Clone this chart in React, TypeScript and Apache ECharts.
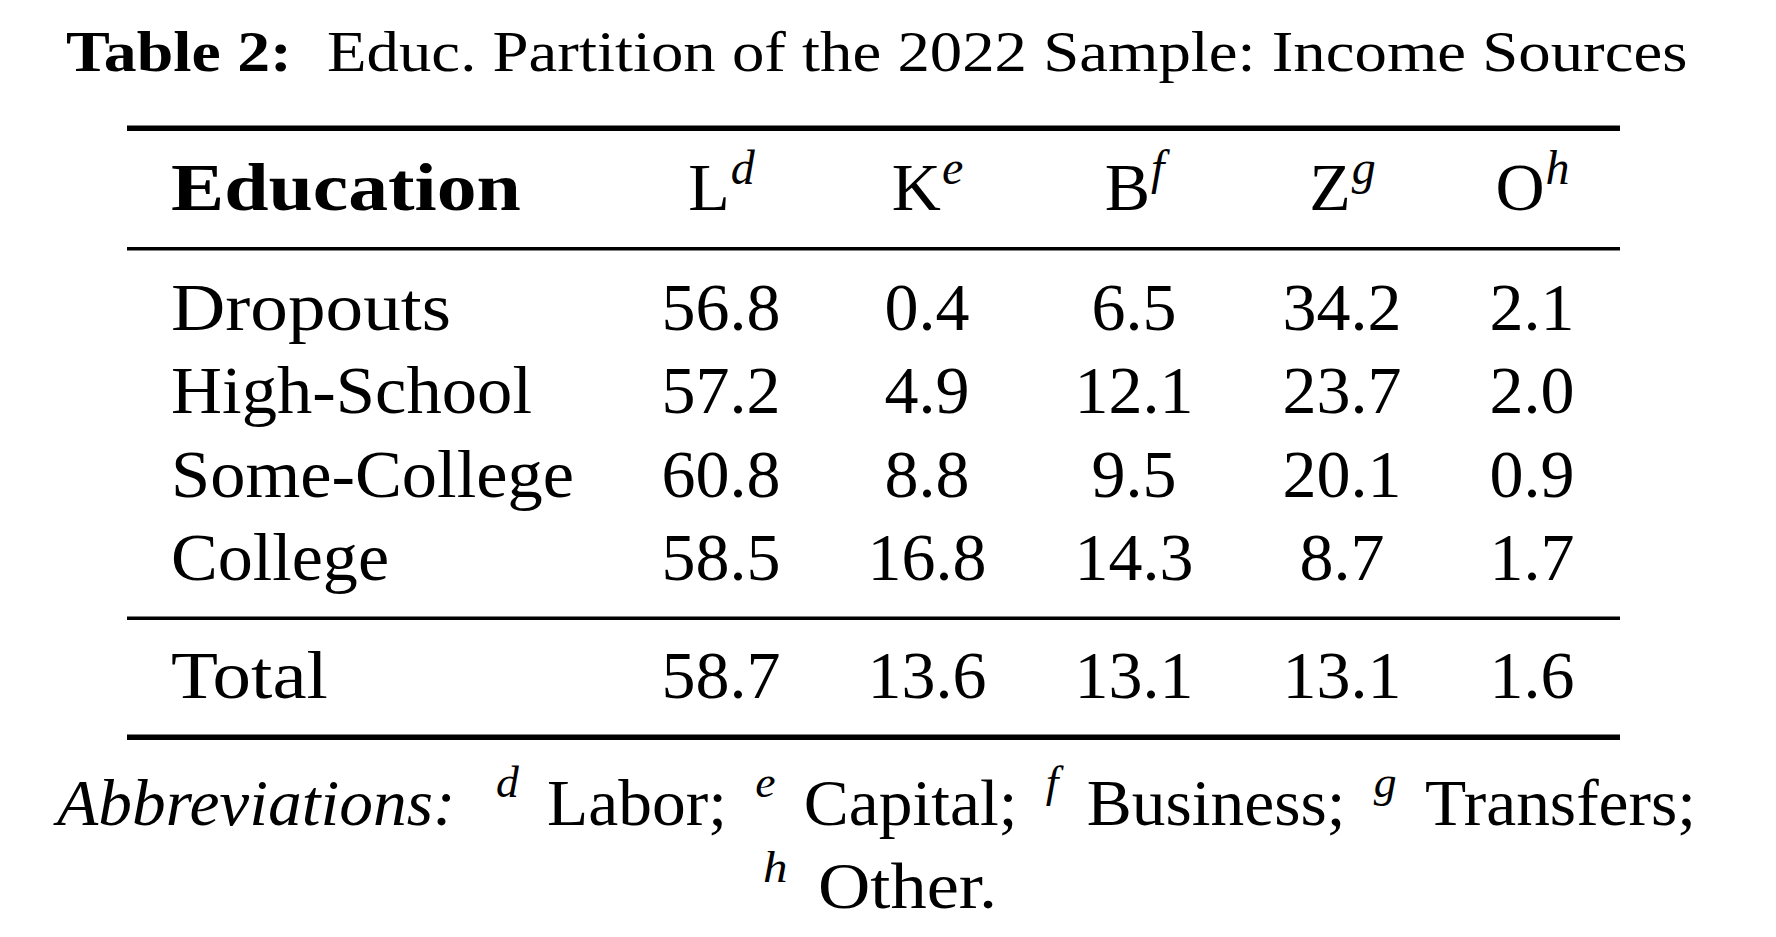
import React, { useEffect, useRef } from "react";
import * as echarts from "echarts";

// ---------- data ----------
const TITLE_BOLD = "Table 2:";
const TITLE_TEXT = "Educ. Partition of the 2022 Sample: Income Sources";
const HEADER_LABEL = "Education";
const COLUMN_LETTERS = ["L", "K", "B", "Z", "O"];
const COLUMN_MARKS = ["d", "e", "f", "g", "h"];
const CATEGORIES = ["Dropouts", "High-School", "Some-College", "College"];
const LABOR = [56.8, 57.2, 60.8, 58.5];
const CAPITAL = [0.4, 4.9, 8.8, 16.8];
const BUSINESS = [6.5, 12.1, 9.5, 14.3];
const TRANSFERS = [34.2, 23.7, 20.1, 8.7];
const OTHER = [2.1, 2.0, 0.9, 1.7];
const TOTAL_LABEL = "Total";
const TOTAL = [58.7, 13.6, 13.1, 13.1, 1.6];
const NOTE_LEAD = "Abbreviations:";
const NOTE_NAMES = ["Labor;", "Capital;", "Business;", "Transfers;", "Other."];

// ---------- layout ----------
const FONT = '"Liberation Serif", "Times New Roman", serif';
const BODY = 68;
const SUP = 48;
const TITLE = 57;
const NOTE = 65;
const NOTE_SUP = 44;
const CENTRAL = 0.3375; // baseline offset of "central" for Liberation Serif
const COL_CENTERS = [721, 927, 1134, 1342, 1532];
const ROW_BASELINES = [330, 413, 497, 580];
const TOTAL_BASELINE = 698;
const HEADER_BASELINE = 210;
const HEADER_SUP_BASELINE = 184;
const LABEL_LEFT = 171;
const LABEL_RIGHTS = [451, 532, 574, 389]; // right edges of row labels
const TOTAL_RIGHT = 328;
const RULE_LEFT = 127;
const RULE_RIGHT = 1620;
const RULES = [
  { y: 125.5, h: 5.5 },
  { y: 247, h: 3.5 },
  { y: 616.5, h: 3.5 },
  { y: 734.5, h: 5.5 },
];

let ctx: CanvasRenderingContext2D | null = null;
function measure(text: string, size: number, weight = "normal", style = "normal") {
  if (!ctx) ctx = document.createElement("canvas").getContext("2d");
  ctx!.font = `${style} ${weight} ${size}px ${FONT}`;
  return ctx!.measureText(text).width;
}

function txt(
  text: string,
  x: number,
  baseline: number,
  size: number,
  opts: { align?: string; weight?: string; style?: string; sx?: number } = {}
) {
  return {
    type: "text",
    x,
    y: baseline - CENTRAL * size,
    scaleX: opts.sx ?? 1,
    silent: true,
    style: {
      text,
      fontFamily: FONT,
      fontSize: size,
      fontWeight: opts.weight ?? "normal",
      fontStyle: opts.style ?? "normal",
      fill: "#000",
      align: opts.align ?? "left",
      verticalAlign: "middle",
    },
  };
}

function fitSpan(
  text: string,
  left: number,
  right: number,
  baseline: number,
  size: number,
  weight = "normal",
  style = "normal"
) {
  const w = measure(text, size, weight, style);
  return txt(text, left, baseline, size, { weight, style, sx: (right - left) / w });
}

type Seg = { text: string; size: number; italic?: boolean; rise?: number; gap?: number };
function lineElements(segs: Seg[], left: number, right: number, baseline: number) {
  const widths = segs.map((s) => measure(s.text, s.size, "normal", s.italic ? "italic" : "normal"));
  let total = 0;
  segs.forEach((s, i) => (total += widths[i] + (s.gap ?? 0)));
  const sx = (right - left) / total;
  let x = left;
  const out: any[] = [];
  segs.forEach((s, i) => {
    x += (s.gap ?? 0) * sx;
    out.push(
      txt(s.text, x, baseline - (s.rise ?? 0), s.size, {
        style: s.italic ? "italic" : "normal",
        sx,
      })
    );
    x += widths[i] * sx;
  });
  return out;
}

function buildGraphics() {
  const g: any[] = [];
  // title
  g.push(fitSpan(TITLE_BOLD, 66, 292, 71, TITLE, "bold"));
  g.push(fitSpan(TITLE_TEXT, 327, 1688, 71, TITLE));

  // rules
  RULES.forEach((r) =>
    g.push({
      type: "rect",
      silent: true,
      shape: { x: RULE_LEFT, y: r.y, width: RULE_RIGHT - RULE_LEFT, height: r.h },
      style: { fill: "#000" },
    })
  );

  // header
  g.push(fitSpan(HEADER_LABEL, LABEL_LEFT, 521, HEADER_BASELINE, BODY, "bold"));
  COLUMN_LETTERS.forEach((letter, i) => {
    const wm = measure(letter, BODY);
    const ws = measure(COLUMN_MARKS[i], SUP, "normal", "italic");
    const left = COL_CENTERS[i] - (wm + ws) / 2;
    g.push(txt(letter, left, HEADER_BASELINE, BODY));
    g.push(txt(COLUMN_MARKS[i], left + wm + 1, HEADER_SUP_BASELINE, SUP, { style: "italic" }));
  });

  // body rows
  const columns = [LABOR, CAPITAL, BUSINESS, TRANSFERS, OTHER];
  CATEGORIES.forEach((cat, r) => {
    g.push(fitSpan(cat, LABEL_LEFT, LABEL_RIGHTS[r], ROW_BASELINES[r], BODY));
    columns.forEach((col, c) => {
      g.push(txt(col[r].toFixed(1), COL_CENTERS[c], ROW_BASELINES[r], BODY, { align: "center" }));
    });
  });

  // total row
  g.push(fitSpan(TOTAL_LABEL, LABEL_LEFT, TOTAL_RIGHT, TOTAL_BASELINE, BODY));
  TOTAL.forEach((v, c) =>
    g.push(txt(v.toFixed(1), COL_CENTERS[c], TOTAL_BASELINE, BODY, { align: "center" }))
  );

  // notes line 1
  const segs: Seg[] = [{ text: NOTE_LEAD, size: NOTE, italic: true }];
  for (let i = 0; i < 4; i++) {
    segs.push({ text: COLUMN_MARKS[i], size: NOTE_SUP, italic: true, rise: 28, gap: i === 0 ? 0.6 * NOTE : 0.42 * NOTE });
    segs.push({ text: NOTE_NAMES[i], size: NOTE, gap: 0.42 * NOTE });
  }
  g.push(...lineElements(segs, 57, 1696, 825));
  // notes line 2
  g.push(
    ...lineElements(
      [
        { text: COLUMN_MARKS[4], size: NOTE_SUP, italic: true, rise: 26 },
        { text: NOTE_NAMES[4], size: NOTE, gap: 0.42 * NOTE },
      ],
      763,
      997,
      908
    )
  );
  return g;
}

export default function App() {
  const ref = useRef<HTMLDivElement>(null);
  useEffect(() => {
    document.body.style.margin = "0";
    document.body.style.background = "#fff";
    const chart = echarts.init(ref.current!, undefined, { renderer: "svg" });
    chart.setOption({
      animation: false,
      backgroundColor: "#fff",
      graphic: { elements: buildGraphics() },
    });
    return () => chart.dispose();
  }, []);
  return <div ref={ref} style={{ width: 1776, height: 937, overflow: "hidden" }} />;
}
